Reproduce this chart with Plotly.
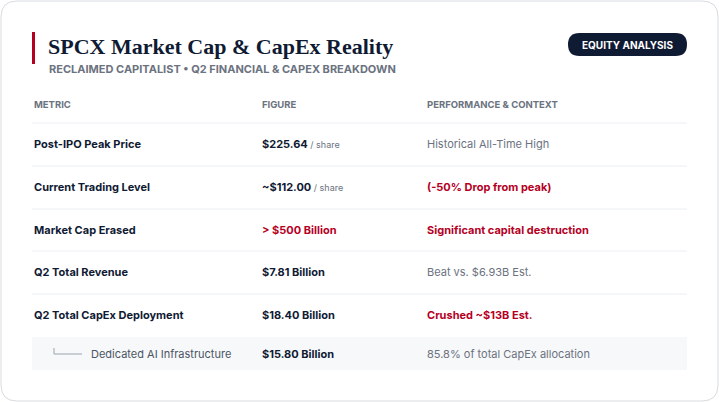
import plotly.graph_objects as go

metrics = ["Post-IPO Peak Price", "Current Trading Level", "Market Cap Erased",
           "Q2 Total Revenue", "Q2 Total CapEx Deployment", "Dedicated AI Infrastructure"]
figures = ["$225.64", "~$112.00", "> $500 Billion", "$7.81 Billion", "$18.40 Billion", "$15.80 Billion"]
units = [" / share", " / share", "", "", "", ""]
contexts = ["Historical All-Time High", "(-50% Drop from peak)", "Significant capital destruction",
            "Beat vs. $6.93B Est.", "Crushed ~$13B Est.", "85.8% of total CapEx allocation"]
figure_red = [False, False, True, False, False, False]
context_red = [False, True, True, False, True, False]
columns = ["METRIC", "FIGURE", "PERFORMANCE & CONTEXT"]

W, H = 719, 402
NAVY = "#0f1a33"; RED = "#b5001f"; GRAY = "#6b7280"; LINE = "#eceef1"
FONT = "Inter"

def rrect(x0, y0, x1, y1, r):
    return (f"M{x0+r},{y0} L{x1-r},{y0} Q{x1},{y0} {x1},{y0+r} L{x1},{y1-r} Q{x1},{y1} {x1-r},{y1} "
            f"L{x0+r},{y1} Q{x0},{y1} {x0},{y1-r} L{x0},{y0+r} Q{x0},{y0} {x0+r},{y0} Z")

fig = go.Figure()
shapes = [
    dict(type="path", path=rrect(1, 1, 718, 401, 16), line=dict(color="#d9dbe0", width=1), fillcolor="white", layer="below"),
    dict(type="rect", x0=32, x1=35, y0=32, y1=64, fillcolor=RED, line_width=0),
    dict(type="path", path=rrect(568, 33, 687, 56, 11.5), fillcolor=NAVY, line_width=0),
]
ann = [
    dict(x=46, y=46, text="<b>SPCX Market Cap &amp; CapEx Reality</b>", font=dict(family="Liberation Serif", size=22, color=NAVY), xanchor="left"),
    dict(x=47, y=69, text="<b>RECLAIMED CAPITALIST • Q2 FINANCIAL &amp; CAPEX BREAKDOWN</b>", font=dict(family=FONT, size=11, color=GRAY), xanchor="left"),
    dict(x=627.5, y=44.5, text="<b>EQUITY ANALYSIS</b>", font=dict(family=FONT, size=10, color="white"), xanchor="center"),
]
colx = [32, 260, 425]
for c, x in zip(columns, colx):
    ann.append(dict(x=x, y=104, text=f"<b>{c}</b>", font=dict(family=FONT, size=9.5, color=GRAY), xanchor="left"))

row_y = [144, 187, 230, 272, 315, 353.5]
seps = [123, 166, 209, 251, 294]
for s in seps:
    shapes.append(dict(type="line", x0=32, x1=687, y0=s, y1=s, line=dict(color=LINE, width=1)))
shapes.append(dict(type="rect", x0=32, x1=687, y0=337, y1=370, fillcolor="#f7f8fa", line_width=0, layer="below"))
shapes.append(dict(type="path", path="M54,348 L54,354 L82,354", line=dict(color="#9ca3af", width=1)))

for i, y in enumerate(row_y):
    sub = i == len(row_y) - 1
    if sub:
        ann.append(dict(x=89, y=y, text=metrics[i], font=dict(family=FONT, size=11, color="#4b5563"), xanchor="left"))
    else:
        ann.append(dict(x=32, y=y, text=f"<b>{metrics[i]}</b>", font=dict(family=FONT, size=11, color=NAVY), xanchor="left"))
    fc = RED if figure_red[i] else NAVY
    t = f"<b>{figures[i]}</b>"
    if units[i]:
        t += f"<span style='font-size:9px;color:{GRAY}'>{units[i]}</span>"
    ann.append(dict(x=260, y=y, text=t, font=dict(family=FONT, size=11, color=fc), xanchor="left"))
    cc = RED if context_red[i] else GRAY
    ct = f"<b>{contexts[i]}</b>" if context_red[i] else contexts[i]
    ann.append(dict(x=425, y=y, text=ct, font=dict(family=FONT, size=11, color=cc), xanchor="left"))

for a in ann:
    a.update(xref="x", yref="y", showarrow=False, yanchor="middle")

fig.update_layout(width=W, height=H, margin=dict(l=0, r=0, t=0, b=0),
                  paper_bgcolor="white", plot_bgcolor="rgba(0,0,0,0)",
                  xaxis=dict(range=[0, W], visible=False, fixedrange=True),
                  yaxis=dict(range=[H, 0], visible=False, fixedrange=True),
                  shapes=shapes, annotations=ann, showlegend=False)
fig.write_html("out.html", config={"displayModeBar": False})
with open("out.html") as f:
    html = f.read()
html = html.replace("<body>", "<body style=\"margin:0;overflow:hidden\">", 1)
with open("out.html", "w") as f:
    f.write(html)
